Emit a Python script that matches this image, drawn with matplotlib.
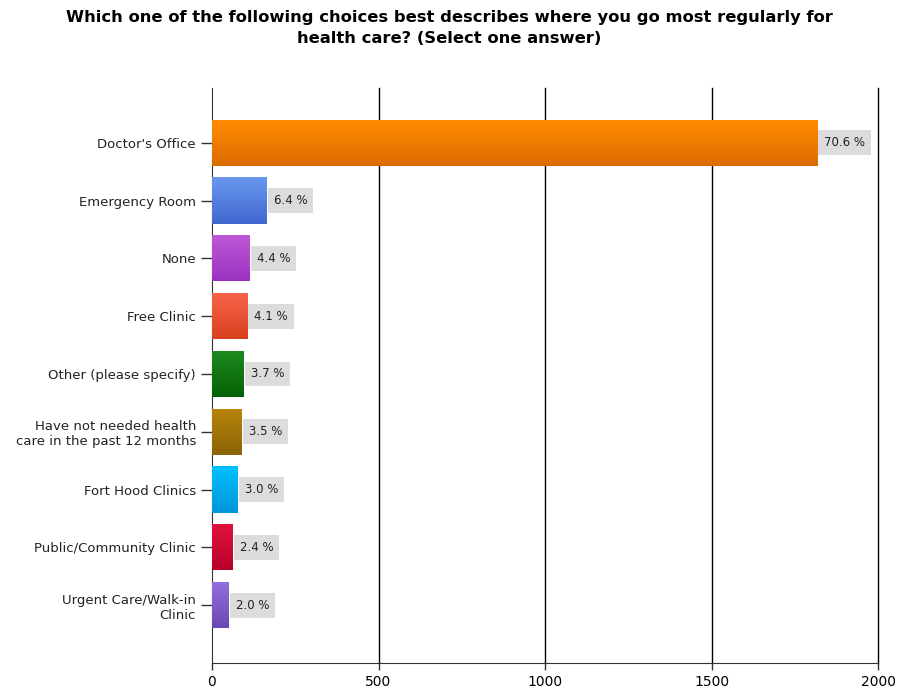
import numpy as np
import matplotlib
matplotlib.use("Agg")
import matplotlib.pyplot as plt
from matplotlib.colors import LinearSegmentedColormap

categories = ["Doctor's Office", "Emergency Room", "None", "Free Clinic",
              "Other (please specify)",
              "Have not needed health\ncare in the past 12 months",
              "Fort Hood Clinics", "Public/Community Clinic",
              "Urgent Care/Walk-in\nClinic"]
counts = [1817, 165, 113, 106, 95, 90, 77, 62, 51]
percents = ["70.6 %", "6.4 %", "4.4 %", "4.1 %", "3.7 %", "3.5 %", "3.0 %", "2.4 %", "2.0 %"]
top_colors = ["#ff8c00", "#6a98ee", "#bf5ad8", "#f9644a", "#1f8a1f",
              "#b8860b", "#00c0ff", "#e0143e", "#9470de"]
bottom_colors = ["#dd6c00", "#3f68d0", "#9a32c0", "#d8401e", "#046204",
                 "#8c6408", "#0096d8", "#b8002a", "#6a48b4"]
xticks = [0, 500, 1000, 1500, 2000]

plt.rcParams['font.family'] = ['DejaVu Sans']
fig = plt.figure(figsize=(8.98, 6.92), dpi=100)
ax = fig.add_axes([0.236, 0.042, 0.742, 0.831])

y = np.arange(len(categories))
bars = ax.barh(y, counts, height=0.8, color=top_colors, edgecolor="none", zorder=3)
grad = np.linspace(0, 1, 64).reshape(-1, 1)
for bar, c0, c1 in zip(bars, top_colors, bottom_colors):
    cmap = LinearSegmentedColormap.from_list("g", [c0, c1])
    x0, y0 = bar.get_x(), bar.get_y()
    w, h = bar.get_width(), bar.get_height()
    im = ax.imshow(grad, cmap=cmap, aspect="auto", extent=[x0, x0 + w, y0 + h, y0],
                   zorder=3.5, origin="upper")
    im.set_clip_path(bar)

for yi, c, p in zip(y, counts, percents):
    ax.annotate(p, xy=(c, yi), xytext=(5, 0), textcoords="offset points",
                va="center", ha="left", fontsize=8.5, color="#222222", zorder=5,
                bbox=dict(boxstyle="square,pad=0.5", fc="#dcdcdc", ec="none"))

ax.set_ylim(len(categories) - 1 + 1.0, -0.95)
ax.set_xlim(0, 2000)
ax.set_xticks(xticks)
ax.set_xticklabels([str(t) for t in xticks], fontsize=10)
ax.set_yticks(y)
ax.set_yticklabels(categories, fontsize=9.5, color="#222222")
for t in xticks[1:]:
    ax.axvline(t, color="black", linewidth=1, zorder=0, clip_on=False)
for s in ["top", "right"]:
    ax.spines[s].set_visible(False)
ax.spines["left"].set_color("#333333")
ax.spines["bottom"].set_color("#333333")
ax.tick_params(axis="y", length=8, width=1, color="#333333")
ax.tick_params(axis="x", length=5, width=1, color="#333333")

fig.suptitle("Which one of the following choices best describes where you go most regularly for\n"
             "health care? (Select one answer)", fontsize=11.8, fontweight="bold",
             x=0.5, y=0.985, linespacing=1.45)
fig.savefig("out.png", dpi=100, facecolor="white")
